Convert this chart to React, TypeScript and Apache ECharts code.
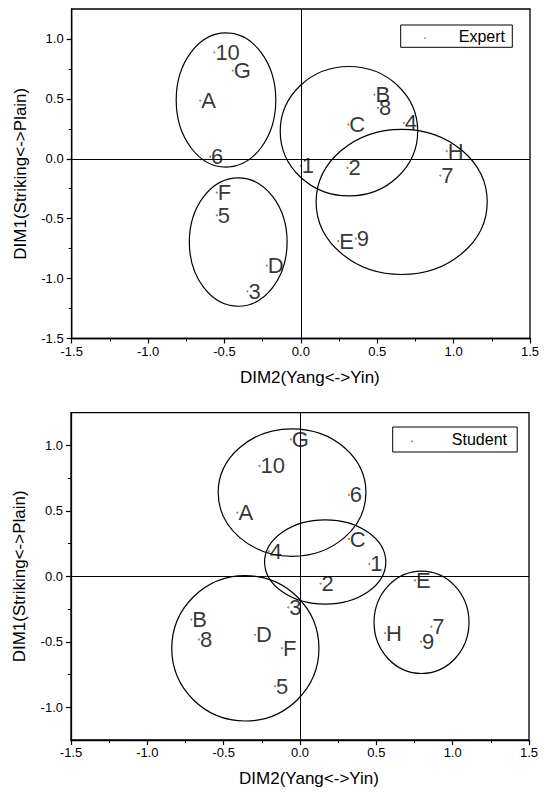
import React, { useEffect, useRef } from "react";
import * as echarts from "echarts";

const FONT = "'Liberation Sans', Arial, Helvetica, sans-serif";

// Expert panel
const expertLabels = ["10", "G", "A", "6", "F", "5", "D", "3", "1", "2", "C", "B", "8", "4", "H", "7", "E", "9"];
const expertX = [-0.566, -0.446, -0.659, -0.594, -0.55, -0.55, -0.223, -0.35, 0.0, 0.306, 0.31, 0.482, 0.505, 0.674, 0.955, 0.913, 0.245, 0.36];
const expertY = [0.888, 0.736, 0.486, 0.017, -0.282, -0.472, -0.891, -1.106, -0.06, -0.075, 0.286, 0.536, 0.425, 0.3, 0.063, -0.14, -0.687, -0.667];
const expertEllipseCx = [-0.49, -0.41, 0.315, 0.66];
const expertEllipseCy = [0.49, -0.695, 0.23, -0.36];
const expertEllipseRx = [0.326, 0.32, 0.45, 0.56];
const expertEllipseRy = [0.56, 0.536, 0.54, 0.606];

// Student panel
const studentLabels = ["G", "10", "6", "A", "C", "4", "1", "2", "E", "3", "B", "8", "D", "F", "H", "7", "9", "5"];
const studentX = [-0.06, -0.265, 0.32, -0.41, 0.32, -0.204, 0.454, 0.135, 0.753, -0.077, -0.712, -0.662, -0.295, -0.118, 0.557, 0.86, 0.793, -0.164];
const studentY = [1.046, 0.843, 0.622, 0.487, 0.285, 0.19, 0.096, -0.055, -0.03, -0.237, -0.33, -0.482, -0.447, -0.548, -0.434, -0.384, -0.498, -0.839];
const studentEllipseCx = [-0.052, 0.165, -0.358, 0.796];
const studentEllipseCy = [0.64, 0.11, -0.55, -0.351];
const studentEllipseRx = [0.484, 0.397, 0.482, 0.311];
const studentEllipseRy = [0.487, 0.322, 0.555, 0.391];

// Ticks
const xMajorTicks = [-1.5, -1.0, -0.5, 0, 0.5, 1.0, 1.5];
const xMinorTicks = [-1.25, -0.75, -0.25, 0.25, 0.75, 1.25];
const expertYMajorTicks = [-1.5, -1.0, -0.5, 0, 0.5, 1.0];
const expertYMinorTicks = [-1.25, -0.75, -0.25, 0.25, 0.75];
const studentYMajorTicks = [-1.0, -0.5, 0, 0.5, 1.0];
const studentYMinorTicks = [-0.75, -0.25, 0.25, 0.75];

const X_NAME = "DIM2(Yang<->Yin)";
const Y_NAME = "DIM1(Striking<->Plain)";

function majorX(gi: number) {
  return {
    type: "value",
    gridIndex: gi,
    min: -1.5,
    max: 1.5,
    interval: 0.5,
    position: "bottom",
    name: X_NAME,
    nameLocation: "middle",
    nameGap: 30,
    nameTextStyle: { fontSize: 17, color: "#000", fontFamily: FONT, padding: [0, 0, 0, 18] },
    axisLine: { onZero: false, lineStyle: { color: "#000", width: 1.3 } },
    axisTick: { customValues: xMajorTicks, length: 5, lineStyle: { color: "#000", width: 1.2 } },
    axisLabel: {
      customValues: xMajorTicks,
      formatter: (v: number) => v.toFixed(1),
      fontSize: 13,
      color: "#000",
      fontFamily: FONT,
      margin: 6,
    },
    splitLine: { show: false },
  };
}

function minorX(gi: number) {
  return {
    type: "value",
    gridIndex: gi,
    min: -1.5,
    max: 1.5,
    interval: 0.25,
    position: "bottom",
    axisLine: { show: false, onZero: false },
    axisTick: { customValues: xMinorTicks, length: 3, lineStyle: { color: "#000", width: 1 } },
    axisLabel: { show: false },
    splitLine: { show: false },
  };
}

function majorY(gi: number, min: number, ticks: number[]) {
  return {
    type: "value",
    gridIndex: gi,
    min,
    max: 1.25,
    position: "left",
    name: Y_NAME,
    nameLocation: "middle",
    nameGap: 43,
    nameTextStyle: { fontSize: 17, color: "#000", fontFamily: FONT },
    axisLine: { onZero: false, lineStyle: { color: "#000", width: 1.3 } },
    axisTick: { customValues: ticks, length: 5, lineStyle: { color: "#000", width: 1.2 } },
    axisLabel: {
      customValues: ticks,
      formatter: (v: number) => v.toFixed(1),
      fontSize: 13,
      color: "#000",
      fontFamily: FONT,
      margin: 8,
    },
    splitLine: { show: false },
  };
}

function minorY(gi: number, min: number, ticks: number[]) {
  return {
    type: "value",
    gridIndex: gi,
    min,
    max: 1.25,
    interval: 0.25,
    position: "left",
    axisLine: { show: false, onZero: false },
    axisTick: { customValues: ticks, length: 3, lineStyle: { color: "#000", width: 1 } },
    axisLabel: { show: false },
    splitLine: { show: false },
  };
}

function ellipseSeries(axisIdx: number, cx: number[], cy: number[], rx: number[], ry: number[]) {
  return {
    type: "custom",
    xAxisIndex: axisIdx,
    yAxisIndex: axisIdx,
    silent: true,
    encode: { x: 0, y: 1 },
    data: cx.map((c, i) => [c, cy[i], rx[i] * 2, ry[i] * 2]),
    renderItem: (_params: any, api: any) => {
      const c = api.coord([api.value(0), api.value(1)]);
      const s = api.size([api.value(2), api.value(3)], [api.value(0), api.value(1)]);
      return {
        type: "ellipse",
        shape: { cx: c[0], cy: c[1], rx: s[0] / 2, ry: s[1] / 2 },
        style: { fill: "none", stroke: "#000", lineWidth: 1.2 },
      };
    },
  };
}

function pointSeries(name: string, axisIdx: number, labels: string[], xs: number[], ys: number[]) {
  return {
    type: "scatter",
    name,
    xAxisIndex: axisIdx,
    yAxisIndex: axisIdx,
    symbol: "circle",
    symbolSize: 2,
    itemStyle: { color: "#666" },
    silent: true,
    data: labels.map((l, i) => ({ name: l, value: [xs[i], ys[i]] })),
    label: {
      show: true,
      position: "right",
      distance: 0,
      formatter: (p: any) => p.name,
      fontSize: 22,
      color: "#000",
      fontFamily: FONT,
    },
    markLine: {
      silent: true,
      symbol: ["none", "none"],
      label: { show: false },
      lineStyle: { color: "#000", type: "solid", width: 1 },
      data: [{ xAxis: 0 }, { yAxis: 0 }],
    },
  };
}

function legendBox(x: number, y: number, w: number, h: number, dotX: number, text: string, textRight: number) {
  return {
    type: "group",
    children: [
      { type: "rect", shape: { x, y, width: w, height: h }, style: { fill: "#fff", stroke: "#000", lineWidth: 1 } },
      { type: "circle", shape: { cx: dotX, cy: y + h / 2 + 2, r: 0.8 }, style: { fill: "#777" } },
      {
        type: "text",
        x: textRight,
        y: y + h / 2,
        style: { text, fill: "#000", font: `16px ${FONT}`, align: "right", verticalAlign: "middle" },
      },
    ],
  };
}

export default function App() {
  const ref = useRef<HTMLDivElement>(null);
  useEffect(() => {
    if (!ref.current) return;
    const chart = echarts.init(ref.current, null, { renderer: "svg" });
    chart.setOption({
      animation: false,
      backgroundColor: "#fff",
      textStyle: { fontFamily: FONT },
      grid: [
        { left: 71.7, top: 9, width: 458.3, height: 329.5, show: true, borderColor: "#000", borderWidth: 1.3, outerBoundsMode: "none", containLabel: false },
        { left: 71, top: 412.7, width: 458, height: 327.3, show: true, borderColor: "#000", borderWidth: 1.3, outerBoundsMode: "none", containLabel: false },
      ],
      xAxis: [majorX(0), minorX(0), majorX(1), minorX(1)],
      yAxis: [
        majorY(0, -1.5, expertYMajorTicks),
        minorY(0, -1.5, expertYMinorTicks),
        majorY(1, -1.25, studentYMajorTicks),
        minorY(1, -1.25, studentYMinorTicks),
      ],
      series: [
        ellipseSeries(0, expertEllipseCx, expertEllipseCy, expertEllipseRx, expertEllipseRy),
        pointSeries("Expert", 0, expertLabels, expertX, expertY),
        ellipseSeries(2, studentEllipseCx, studentEllipseCy, studentEllipseRx, studentEllipseRy),
        pointSeries("Student", 2, studentLabels, studentX, studentY),
      ],
      graphic: [
        legendBox(400.7, 25, 111.6, 22.3, 425, "Expert", 505),
        legendBox(392.7, 427, 124.5, 25, 412, "Student", 507),
      ],
    });
    return () => chart.dispose();
  }, []);
  return (
    <div
      ref={ref}
      style={{ position: "absolute", left: 0, top: 0, width: 546, height: 798 }}
    />
  );
}
